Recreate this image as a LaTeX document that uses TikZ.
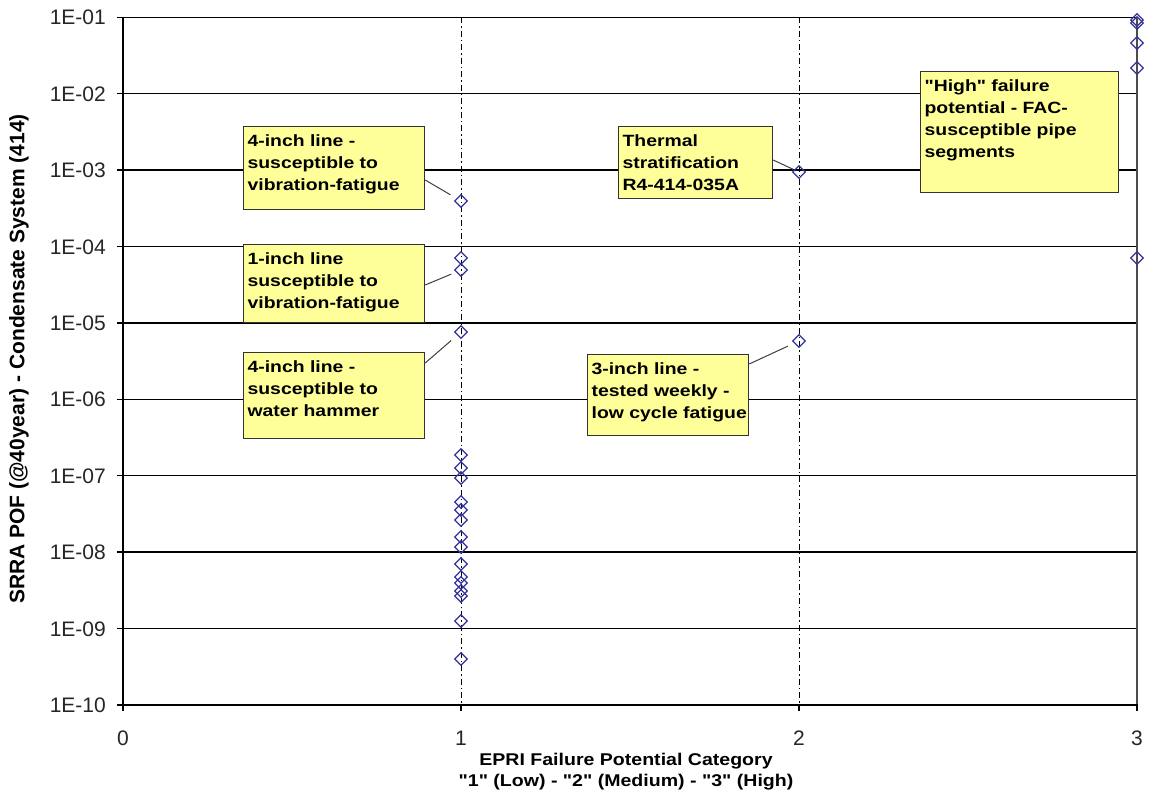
\documentclass[tikz,border=0pt]{standalone}
\usepackage{fontspec}
\setmainfont{Liberation Sans}
\newfontfamily\boxfont[FakeStretch=1.19]{Liberation Sans}
\newfontfamily\xtfont[FakeStretch=1.15]{Liberation Sans}
\usetikzlibrary{shapes.geometric}
\definecolor{boxyellow}{HTML}{FFFF99}
\definecolor{ptblue}{HTML}{333399}
\newcommand{\lbltext}[3]{\parbox[t][#2][t]{#1}{\begin{tabular}[t]{@{}l@{}}\rule{0pt}{19.5pt}#3\end{tabular}}}
\begin{document}
\begin{tikzpicture}[x=1pt,y=-1pt,
  pt/.style={diamond,draw=ptblue,line width=1.3pt,minimum width=13pt,minimum height=13pt,inner sep=0pt},
  lbl/.style={draw=black!80,line width=1.2pt,fill=boxyellow,anchor=north west,inner xsep=4pt,inner ysep=0pt,
    font=\boxfont\bfseries\fontsize{16.3}{22}\selectfont},
  gridline/.style={black,line width=1.4pt},
  dashdot/.style={black,line width=1pt,dash pattern=on 6pt off 3pt on 1.5pt off 3pt},
  leader/.style={black!75,line width=1pt},
  ytick/.style={anchor=base east,inner sep=0pt,text=black!85,font=\fontsize{21}{21}\selectfont},
  xtick/.style={anchor=base,inner sep=0pt,text=black!85,font=\fontsize{21}{21}\selectfont},
  xtitle/.style={anchor=base,inner sep=0pt,font=\xtfont\bfseries\fontsize{17}{17}\selectfont}
]
\useasboundingbox (0,0) rectangle (1150,796);
\fill[white] (0,0) rectangle (1150,796);

% grid and y tick labels
\foreach \k in {0,...,9} {
  \pgfmathsetmacro{\yy}{17.3+76.4*\k}
  \pgfmathtruncatemacro{\e}{\k+1}
  \draw[gridline] (117,\yy) -- (1137,\yy);
  \node[ytick] (yt\k) at (106,\yy+7.5) {1E-\ifnum\e<10 0\fi\e};
}
% dash-dot category lines
\draw[dashdot] (461,17.3) -- (461,705);
\draw[dashdot] (799,17.3) -- (799,705);
% right border
\draw[black!70,line width=1.3pt] (1137,17.3) -- (1137,705);
% axes
\draw[black,line width=2.6pt] (123,16.5) -- (123,705);
\draw[black,line width=2pt] (117,705) -- (1138,705);
\foreach \xx in {123,461,799,1137} \draw[black,line width=1.4pt] (\xx,705) -- (\xx,711);

% x tick labels
\node[xtick] (xt0) at (123,745) {0};
\node[xtick] (xt1) at (461,745) {1};
\node[xtick] (xt2) at (799,745) {2};
\node[xtick] (xt3) at (1137,745) {3};

% axis titles
\node[xtitle] (xtl1) at (626,765) {EPRI Failure Potential Category};
\node[xtitle] (xtl2) at (626,786) {"1" (Low) - "2" (Medium) - "3" (High)};
\node[rotate=90,inner sep=0pt,font=\bfseries\fontsize{21}{21}\selectfont] (ytitle) at (19,359)
  {SRRA POF (@40year) - Condensate System (414)};

% label boxes
\node[lbl] (b1) at (243,126) {\lbltext{173pt}{83pt}{4-inch line -\\susceptible to\\vibration-fatigue}};
\node[lbl] (b2) at (243,244) {\lbltext{173pt}{78pt}{1-inch line\\susceptible to\\vibration-fatigue}};
\node[lbl] (b3) at (243,352) {\lbltext{173pt}{86pt}{4-inch line -\\susceptible to\\water hammer}};
\node[lbl] (b4) at (618,126) {\lbltext{146pt}{72pt}{Thermal\\stratification\\R4-414-035A}};
\node[lbl] (b5) at (587,354) {\lbltext{153pt}{81pt}{3-inch line -\\tested weekly -\\low cycle fatigue}};
\node[lbl] (b6) at (920,71) {\lbltext{190pt}{121pt}{"High" failure\\potential - FAC-\\susceptible pipe\\segments}};

% data points category 1
\foreach \yv [count=\i] in {201,258,270,332,455,468,478,502,510,520,537,547,564,577,583,591,596,621,659}
  \node[pt] (a\i) at (461,\yv) {};
% category 2
\node[pt] (c1) at (799,172) {};
\node[pt] (c2) at (799,341) {};
% category 3
\foreach \yv [count=\i] in {20,23,43,68,258}
  \node[pt] (d\i) at (1137,\yv) {};

% leaders
\draw[leader,shorten >=7pt] (b1.east |- 0,180) -- (a1);
\draw[leader,shorten >=5pt] (b2.east |- 0,285) -- (a3);
\draw[leader,shorten >=8pt] (b3.east |- 0,363) -- (a4);
\draw[leader,shorten >=1pt] (b4.east |- 0,160) -- (c1);
\draw[leader,shorten >=7pt] (b5.east |- 0,364) -- (c2);
\end{tikzpicture}
\end{document}
